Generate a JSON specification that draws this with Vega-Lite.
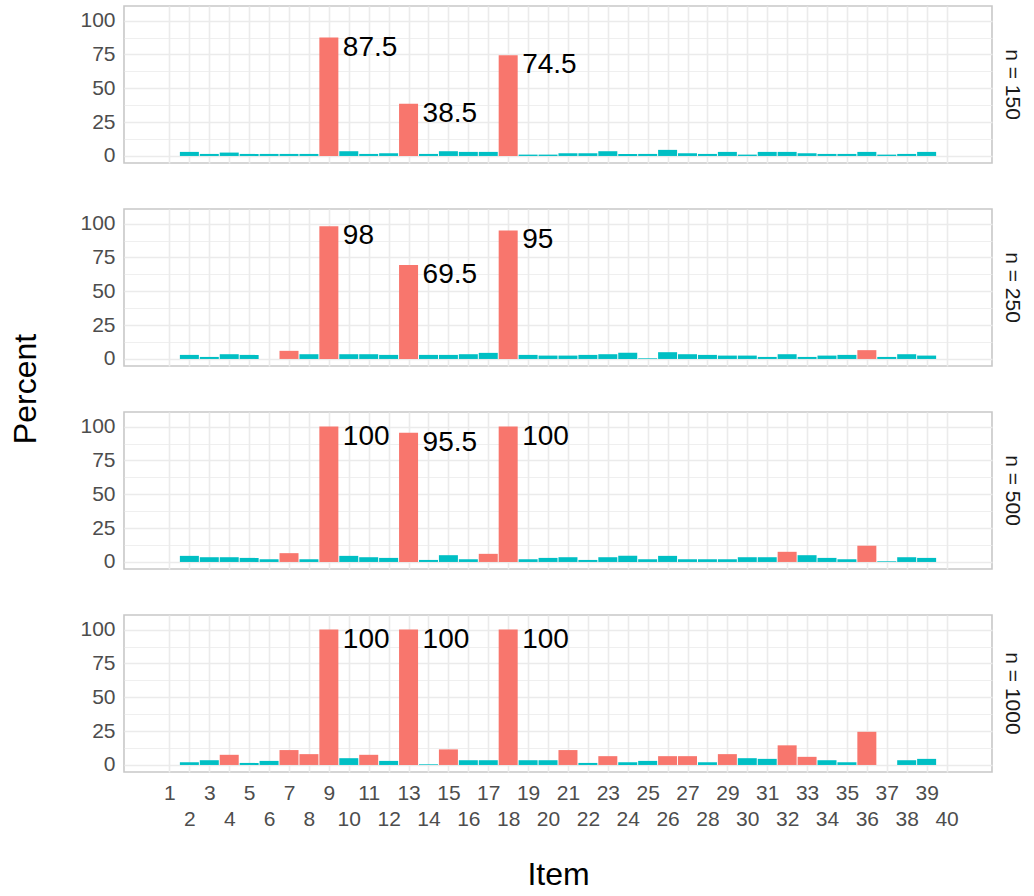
{
  "$schema": "https://vega.github.io/schema/vega-lite/v6.json",
  "padding": {"left": 10, "top": 5, "right": 0, "bottom": 0},
  "config": {
    "font": "Liberation Sans",
    "view": {"stroke": "#C8C8C8", "strokeWidth": 1.6},
    "axis": {"labelFont": "Liberation Sans", "titleFont": "Liberation Sans", "labelLineHeight": 26}
  },
  "data": {"values": [
    {"n":"n = 150","item":2,"pct":3.0,"f":"no"},{"n":"n = 150","item":3,"pct":1.5,"f":"no"},{"n":"n = 150","item":4,"pct":2.5,"f":"no"},{"n":"n = 150","item":5,"pct":1.5,"f":"no"},{"n":"n = 150","item":6,"pct":1.5,"f":"no"},{"n":"n = 150","item":7,"pct":1.5,"f":"no"},{"n":"n = 150","item":8,"pct":1.5,"f":"no"},{"n":"n = 150","item":9,"pct":87.5,"f":"yes"},{"n":"n = 150","item":10,"pct":3.5,"f":"no"},{"n":"n = 150","item":11,"pct":1.5,"f":"no"},{"n":"n = 150","item":12,"pct":2.0,"f":"no"},{"n":"n = 150","item":13,"pct":38.5,"f":"yes"},{"n":"n = 150","item":14,"pct":1.5,"f":"no"},{"n":"n = 150","item":15,"pct":3.5,"f":"no"},{"n":"n = 150","item":16,"pct":3.0,"f":"no"},{"n":"n = 150","item":17,"pct":3.0,"f":"no"},{"n":"n = 150","item":18,"pct":74.5,"f":"yes"},{"n":"n = 150","item":19,"pct":1.0,"f":"no"},{"n":"n = 150","item":20,"pct":1.0,"f":"no"},{"n":"n = 150","item":21,"pct":2.0,"f":"no"},{"n":"n = 150","item":22,"pct":2.0,"f":"no"},{"n":"n = 150","item":23,"pct":3.5,"f":"no"},{"n":"n = 150","item":24,"pct":1.5,"f":"no"},{"n":"n = 150","item":25,"pct":1.5,"f":"no"},{"n":"n = 150","item":26,"pct":4.5,"f":"no"},{"n":"n = 150","item":27,"pct":2.0,"f":"no"},{"n":"n = 150","item":28,"pct":1.5,"f":"no"},{"n":"n = 150","item":29,"pct":3.0,"f":"no"},{"n":"n = 150","item":30,"pct":1.0,"f":"no"},{"n":"n = 150","item":31,"pct":3.0,"f":"no"},{"n":"n = 150","item":32,"pct":3.0,"f":"no"},{"n":"n = 150","item":33,"pct":2.0,"f":"no"},{"n":"n = 150","item":34,"pct":1.5,"f":"no"},{"n":"n = 150","item":35,"pct":1.5,"f":"no"},{"n":"n = 150","item":36,"pct":3.0,"f":"no"},{"n":"n = 150","item":37,"pct":1.0,"f":"no"},{"n":"n = 150","item":38,"pct":1.5,"f":"no"},{"n":"n = 150","item":39,"pct":3.0,"f":"no"},
    {"n":"n = 250","item":2,"pct":3.0,"f":"no"},{"n":"n = 250","item":3,"pct":1.5,"f":"no"},{"n":"n = 250","item":4,"pct":3.5,"f":"no"},{"n":"n = 250","item":5,"pct":3.0,"f":"no"},{"n":"n = 250","item":7,"pct":6.0,"f":"yes"},{"n":"n = 250","item":8,"pct":3.5,"f":"no"},{"n":"n = 250","item":9,"pct":98,"f":"yes"},{"n":"n = 250","item":10,"pct":3.5,"f":"no"},{"n":"n = 250","item":11,"pct":3.5,"f":"no"},{"n":"n = 250","item":12,"pct":3.0,"f":"no"},{"n":"n = 250","item":13,"pct":69.5,"f":"yes"},{"n":"n = 250","item":14,"pct":3.0,"f":"no"},{"n":"n = 250","item":15,"pct":3.0,"f":"no"},{"n":"n = 250","item":16,"pct":3.5,"f":"no"},{"n":"n = 250","item":17,"pct":4.5,"f":"no"},{"n":"n = 250","item":18,"pct":95,"f":"yes"},{"n":"n = 250","item":19,"pct":3.0,"f":"no"},{"n":"n = 250","item":20,"pct":2.5,"f":"no"},{"n":"n = 250","item":21,"pct":2.5,"f":"no"},{"n":"n = 250","item":22,"pct":3.0,"f":"no"},{"n":"n = 250","item":23,"pct":3.5,"f":"no"},{"n":"n = 250","item":24,"pct":4.5,"f":"no"},{"n":"n = 250","item":25,"pct":0.5,"f":"no"},{"n":"n = 250","item":26,"pct":5.0,"f":"no"},{"n":"n = 250","item":27,"pct":3.5,"f":"no"},{"n":"n = 250","item":28,"pct":3.0,"f":"no"},{"n":"n = 250","item":29,"pct":2.5,"f":"no"},{"n":"n = 250","item":30,"pct":2.5,"f":"no"},{"n":"n = 250","item":31,"pct":1.5,"f":"no"},{"n":"n = 250","item":32,"pct":3.5,"f":"no"},{"n":"n = 250","item":33,"pct":1.5,"f":"no"},{"n":"n = 250","item":34,"pct":2.5,"f":"no"},{"n":"n = 250","item":35,"pct":3.0,"f":"no"},{"n":"n = 250","item":36,"pct":6.5,"f":"yes"},{"n":"n = 250","item":37,"pct":1.5,"f":"no"},{"n":"n = 250","item":38,"pct":3.5,"f":"no"},{"n":"n = 250","item":39,"pct":2.5,"f":"no"},
    {"n":"n = 500","item":2,"pct":4.5,"f":"no"},{"n":"n = 500","item":3,"pct":3.5,"f":"no"},{"n":"n = 500","item":4,"pct":3.5,"f":"no"},{"n":"n = 500","item":5,"pct":3.0,"f":"no"},{"n":"n = 500","item":6,"pct":2.0,"f":"no"},{"n":"n = 500","item":7,"pct":6.5,"f":"yes"},{"n":"n = 500","item":8,"pct":2.0,"f":"no"},{"n":"n = 500","item":9,"pct":100,"f":"yes"},{"n":"n = 500","item":10,"pct":4.5,"f":"no"},{"n":"n = 500","item":11,"pct":3.5,"f":"no"},{"n":"n = 500","item":12,"pct":3.0,"f":"no"},{"n":"n = 500","item":13,"pct":95.5,"f":"yes"},{"n":"n = 500","item":14,"pct":1.5,"f":"no"},{"n":"n = 500","item":15,"pct":5.0,"f":"no"},{"n":"n = 500","item":16,"pct":2.0,"f":"no"},{"n":"n = 500","item":17,"pct":6.0,"f":"yes"},{"n":"n = 500","item":18,"pct":100,"f":"yes"},{"n":"n = 500","item":19,"pct":2.0,"f":"no"},{"n":"n = 500","item":20,"pct":3.0,"f":"no"},{"n":"n = 500","item":21,"pct":3.5,"f":"no"},{"n":"n = 500","item":22,"pct":1.5,"f":"no"},{"n":"n = 500","item":23,"pct":3.5,"f":"no"},{"n":"n = 500","item":24,"pct":4.5,"f":"no"},{"n":"n = 500","item":25,"pct":2.0,"f":"no"},{"n":"n = 500","item":26,"pct":4.5,"f":"no"},{"n":"n = 500","item":27,"pct":2.0,"f":"no"},{"n":"n = 500","item":28,"pct":2.0,"f":"no"},{"n":"n = 500","item":29,"pct":2.0,"f":"no"},{"n":"n = 500","item":30,"pct":3.5,"f":"no"},{"n":"n = 500","item":31,"pct":3.5,"f":"no"},{"n":"n = 500","item":32,"pct":7.5,"f":"yes"},{"n":"n = 500","item":33,"pct":5.0,"f":"no"},{"n":"n = 500","item":34,"pct":3.0,"f":"no"},{"n":"n = 500","item":35,"pct":2.0,"f":"no"},{"n":"n = 500","item":36,"pct":12.0,"f":"yes"},{"n":"n = 500","item":37,"pct":0.5,"f":"no"},{"n":"n = 500","item":38,"pct":3.5,"f":"no"},{"n":"n = 500","item":39,"pct":3.0,"f":"no"},
    {"n":"n = 1000","item":2,"pct":2.0,"f":"no"},{"n":"n = 1000","item":3,"pct":3.5,"f":"no"},{"n":"n = 1000","item":4,"pct":7.5,"f":"yes"},{"n":"n = 1000","item":5,"pct":1.5,"f":"no"},{"n":"n = 1000","item":6,"pct":3.0,"f":"no"},{"n":"n = 1000","item":7,"pct":11.0,"f":"yes"},{"n":"n = 1000","item":8,"pct":8.0,"f":"yes"},{"n":"n = 1000","item":9,"pct":100,"f":"yes"},{"n":"n = 1000","item":10,"pct":5.0,"f":"no"},{"n":"n = 1000","item":11,"pct":7.5,"f":"yes"},{"n":"n = 1000","item":12,"pct":3.0,"f":"no"},{"n":"n = 1000","item":13,"pct":100,"f":"yes"},{"n":"n = 1000","item":14,"pct":0.5,"f":"no"},{"n":"n = 1000","item":15,"pct":11.5,"f":"yes"},{"n":"n = 1000","item":16,"pct":3.5,"f":"no"},{"n":"n = 1000","item":17,"pct":3.5,"f":"no"},{"n":"n = 1000","item":18,"pct":100,"f":"yes"},{"n":"n = 1000","item":19,"pct":3.5,"f":"no"},{"n":"n = 1000","item":20,"pct":3.5,"f":"no"},{"n":"n = 1000","item":21,"pct":11.0,"f":"yes"},{"n":"n = 1000","item":22,"pct":1.5,"f":"no"},{"n":"n = 1000","item":23,"pct":6.5,"f":"yes"},{"n":"n = 1000","item":24,"pct":2.0,"f":"no"},{"n":"n = 1000","item":25,"pct":3.0,"f":"no"},{"n":"n = 1000","item":26,"pct":6.5,"f":"yes"},{"n":"n = 1000","item":27,"pct":6.5,"f":"yes"},{"n":"n = 1000","item":28,"pct":2.0,"f":"no"},{"n":"n = 1000","item":29,"pct":8.0,"f":"yes"},{"n":"n = 1000","item":30,"pct":5.0,"f":"no"},{"n":"n = 1000","item":31,"pct":4.5,"f":"no"},{"n":"n = 1000","item":32,"pct":14.5,"f":"yes"},{"n":"n = 1000","item":33,"pct":6.0,"f":"yes"},{"n":"n = 1000","item":34,"pct":3.5,"f":"no"},{"n":"n = 1000","item":35,"pct":2.0,"f":"no"},{"n":"n = 1000","item":36,"pct":24.5,"f":"yes"},{"n":"n = 1000","item":38,"pct":3.5,"f":"no"},{"n":"n = 1000","item":39,"pct":4.5,"f":"no"}
  ]},
  "facet": {
    "row": {
      "field": "n", "type": "nominal",
      "sort": ["n = 150", "n = 250", "n = 500", "n = 1000"],
      "title": "Percent",
      "header": {
        "titleOrient": "left", "labelOrient": "right",
        "titleFontSize": 32, "titleColor": "#000000", "titleFontWeight": "normal", "titlePadding": 26,
        "labelFontSize": 21, "labelColor": "#1A1A1A", "labelAngle": 90, "labelPadding": 9
      }
    }
  },
  "spacing": {"row": 44},
  "spec": {
    "width": 868,
    "height": 157,
    "encoding": {
      "x": {
        "field": "item", "type": "quantitative",
        "scale": {"domain": [-1.03, 42.03], "nice": false, "zero": false},
        "axis": {
          "title": "Item", "titleFontSize": 32, "titleColor": "#000000", "titleFontWeight": "normal", "titlePadding": 30,
          "values": [1,2,3,4,5,6,7,8,9,10,11,12,13,14,15,16,17,18,19,20,21,22,23,24,25,26,27,28,29,30,31,32,33,34,35,36,37,38,39,40],
          "labelAngle": 0, "labelFontSize": 21, "labelColor": "#4D4D4D", "labelPadding": 9,
          "labelFlush": false, "labelOverlap": false,
          "labelExpr": "datum.value % 2 == 0 ? ['', datum.label] : datum.label",
          "ticks": false, "domain": false,
          "grid": true, "gridColor": "#EBEBEB", "gridWidth": 1.6
        }
      },
      "y": {
        "field": "pct", "type": "quantitative",
        "scale": {"domain": [-5.2, 110.8], "nice": false, "zero": false},
        "axis": {
          "title": null, "values": [0, 12.5, 25, 37.5, 50, 62.5, 75, 87.5, 100],
          "labelExpr": "datum.value % 25 == 0 ? datum.label : ''",
          "labelFontSize": 21, "labelColor": "#4D4D4D", "labelPadding": 8,
          "ticks": false, "domain": false,
          "grid": true, "gridColor": "#EBEBEB",
          "gridWidth": {"condition": {"test": "datum.value % 25 == 0", "value": 1.6}, "value": 0.8}
        }
      }
    },
    "layer": [
      {
        "mark": {"type": "bar", "width": 19},
        "encoding": {
          "y": {"field": "pct", "type": "quantitative"},
          "y2": {"datum": 0},
          "color": {"field": "f", "type": "nominal", "scale": {"domain": ["yes", "no"], "range": ["#F8766D", "#00BFC4"]}, "legend": null}
        }
      },
      {
        "transform": [{"filter": "datum.item == 9 || datum.item == 13 || datum.item == 18"}],
        "mark": {"type": "text", "align": "left", "baseline": "top", "dx": 14, "dy": -4, "fontSize": 28, "color": "#000000"},
        "encoding": {
          "text": {"field": "pct", "type": "nominal"}
        }
      }
    ]
  }
}
